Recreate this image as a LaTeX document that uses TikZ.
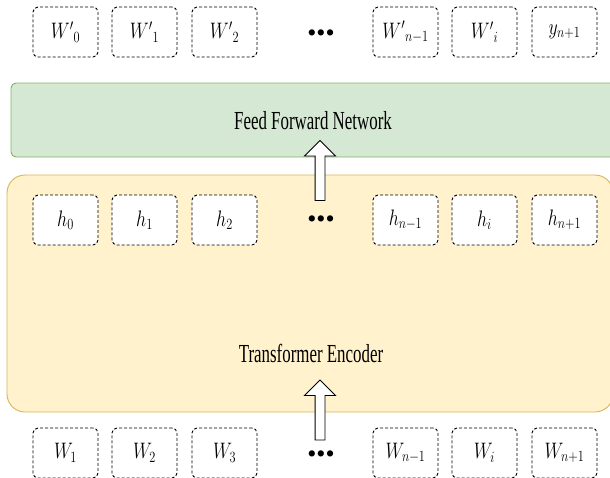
\documentclass[tikz,border=0pt]{standalone}
\usepackage{fontspec}
\setmainfont{Liberation Serif}
\newfontfamily\netfont[FakeStretch=0.65]{Liberation Serif}
\usetikzlibrary{shapes.arrows}
\definecolor{ffnfill}{HTML}{D5E8D4}
\definecolor{ffnline}{HTML}{82B366}
\definecolor{encfill}{HTML}{FFF2CC}
\definecolor{encline}{HTML}{D6B656}
\newcommand{\tok}[1]{\scalebox{0.86}[1.08]{$#1$}}
\tikzset{
  tok/.style={draw=black, line width=0.9pt, dash pattern=on 3pt off 2pt, rounded corners=5pt, fill=white,
    minimum width=65pt, minimum height=50pt, inner sep=0pt, font=\fontsize{20}{24}\selectfont},
  dots/.style={font=\fontsize{26}{30}\selectfont},
  blockarrow/.style={single arrow, draw, fill=white, rotate=90, minimum height=60pt,
    inner xsep=0pt, inner ysep=4.5pt, single arrow head extend=10.5pt, line width=0.9pt}
}
\begin{document}
\begin{tikzpicture}[x=1pt, y=-1pt]
      \useasboundingbox (0,0) rectangle (610,477);
      % layers
      \draw[fill=encfill, draw=encline, line width=0.9pt, rounded corners=18pt] (7,175) rectangle (613,412);
      \draw[fill=ffnfill, draw=ffnline, line width=0.9pt, rounded corners=5pt] (11,83) rectangle (640,157);
      \node[font=\netfont\fontsize{26}{30}\selectfont] (ffn) at (313,121) {Feed Forward Network};
      \node[font=\netfont\fontsize{26}{30}\selectfont] (enc) at (311,353) {Transformer Encoder};
      % outputs
      \draw
        (65.5,32) node[tok] (o0){\tok{{W'}_0}}
        (144.5,32) node[tok] (o1){\tok{{W'}_1}}
        (224.5,32) node[tok] (o2){\tok{{W'}_2}}
        (321,36) node[dots] (odots){•••}
        (405.5,32) node[tok] (on1){\tok{{W'}_{n-1}}}
        (484.5,32) node[tok] (oi){\tok{{W'}_i}}
        (564.5,32) node[tok] (on){\tok{y_{n+1}}};
      % hidden states
      \draw
        (65.5,220) node[tok] (h0){\tok{h_0}}
        (144.5,220) node[tok] (h1){\tok{h_1}}
        (224.5,220) node[tok] (h2){\tok{h_2}}
        (321,222) node[dots] (hdots){•••}
        (405.5,220) node[tok] (hn1){\tok{h_{n-1}}}
        (484.5,220) node[tok] (hi){\tok{h_i}}
        (564.5,220) node[tok] (hn){\tok{h_{n+1}}};
      % inputs
      \draw
        (65.5,453) node[tok] (w1){\tok{W_1}}
        (144.5,453) node[tok] (w2){\tok{W_2}}
        (224.5,453) node[tok] (w3){\tok{W_3}}
        (321,457) node[dots] (wdots){•••}
        (405.5,453) node[tok] (wn1){\tok{W_{n-1}}}
        (484.5,453) node[tok] (wi){\tok{W_i}}
        (564.5,453) node[tok] (wn){\tok{W_{n+1}}};
      \begin{scope}
        \node[blockarrow] (up1) at (320,173) {};
        \node[blockarrow] (up2) at (320,412.5) {};
      \end{scope}
    \end{tikzpicture}
\end{document}
